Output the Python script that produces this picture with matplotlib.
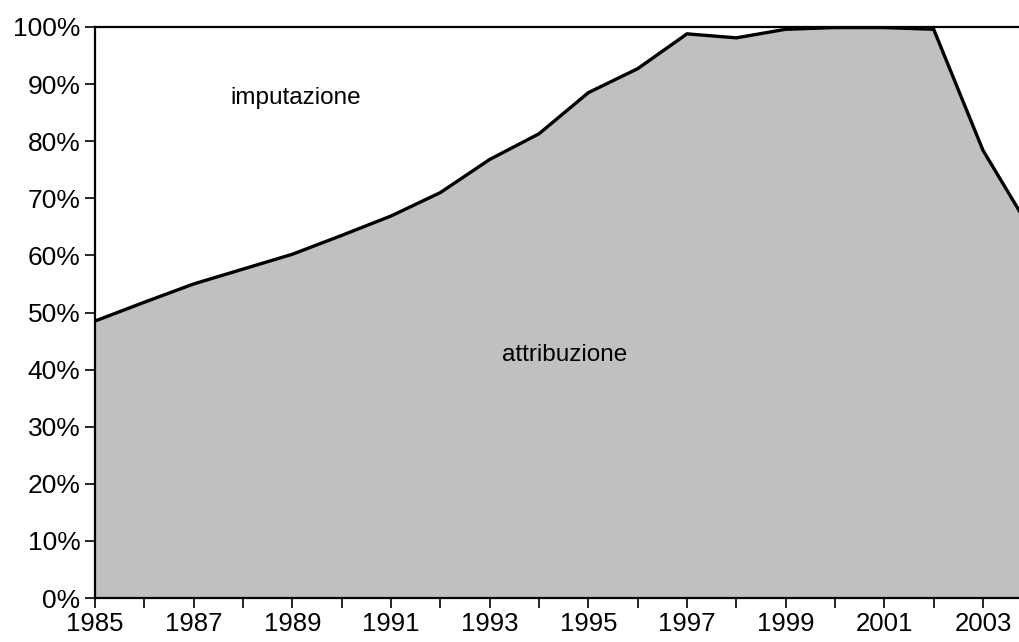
import matplotlib
matplotlib.use("Agg")
import matplotlib.pyplot as plt
from matplotlib.ticker import FixedLocator, FuncFormatter

years = [1985, 1986, 1987, 1988, 1989, 1990, 1991, 1992, 1993, 1994,
         1995, 1996, 1997, 1998, 1999, 2000, 2001, 2002, 2003, 2004]
attribuzione = [48.5, 51.8, 55.0, 57.6, 60.2, 63.5, 66.9, 71.0, 76.8, 81.3,
                88.5, 92.7, 98.8, 98.1, 99.6, 99.9, 99.9, 99.6, 78.4, 64.0]
major_years = list(range(1985, 2004, 2))
label_top = "imputazione"
label_bottom = "attribuzione"

plt.rcParams['font.family'] = ['Liberation Sans', 'DejaVu Sans']

fig = plt.figure(figsize=(10.2, 6.42), dpi=100)
ax = fig.add_axes([95 / 1020, 44 / 642, 1 - 95 / 1020, (598 - 27) / 642])

ax.fill_between(years, attribuzione, 0, color='#c0c0c0', linewidth=0)
ax.plot(years, attribuzione, color='black', linewidth=2.4, solid_joinstyle='miter')

ax.set_xlim(1985, 2003.75)
ax.set_ylim(0, 100)

ax.xaxis.set_major_locator(FixedLocator(major_years))
ax.xaxis.set_minor_locator(FixedLocator(years))
ax.yaxis.set_major_locator(FixedLocator(list(range(0, 101, 10))))
ax.yaxis.set_major_formatter(FuncFormatter(lambda v, p: f"{int(v)}%"))

ax.tick_params(axis='x', which='both', direction='out', length=7, width=1.2,
               labelsize=18.5, pad=3)
ax.tick_params(axis='y', which='both', direction='out', length=7.5, width=1.2,
               labelsize=19, pad=3)

for s in ['left', 'bottom', 'top']:
    ax.spines[s].set_linewidth(1.6)
ax.spines['right'].set_visible(False)

ax.text(1987.74, 87.6, label_top, fontsize=17.5, ha='left', va='center')
ax.text(1993.26, 42.6, label_bottom, fontsize=17.5, ha='left', va='center')

fig.savefig("out.png", dpi=100)
